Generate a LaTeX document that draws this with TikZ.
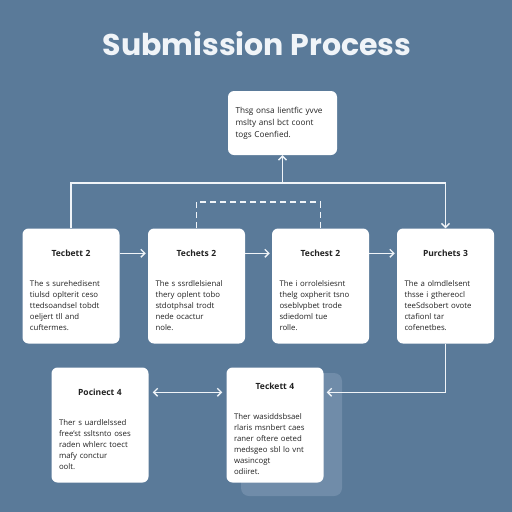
\documentclass[tikz,border=0pt]{standalone}
\usepackage{fontspec}
\setmainfont{Open Sans}
\newfontfamily\headfont{Poppins}
\usetikzlibrary{arrows.meta}
\definecolor{bgblue}{RGB}{90,122,153}
\definecolor{shadeblue}{RGB}{122,149,176}
\definecolor{linewhite}{RGB}{240,244,248}
\definecolor{inkdark}{RGB}{34,34,34}
\def\cardtext#1#2{{\centering\bfseries\fontsize{8.5}{11}\selectfont #1\par}\vspace{19pt}#2\par\vspace{-8pt}}

\begin{document}
\begin{tikzpicture}[x=1pt, y=-1pt,
          card/.style = {shape=rectangle, rounded corners=6pt, fill=white,
          text=inkdark, align=left, text width=82pt, inner sep=7.5pt,
          minimum height=115pt, font=\fontsize{7.8}{11}\selectfont},
          link/.style = {draw=linewhite, line width=1.4pt,
          -{Straight Barb[length=4pt,width=8pt]}},
          both/.style = {link, {Straight Barb[length=4pt,width=8pt]}-{Straight Barb[length=4pt,width=8pt]}}
          ]
  \useasboundingbox (0,0) rectangle (512,512);
  \fill[bgblue] (0,0) rectangle (512,512);

  \node[text=linewhite, anchor=base, font=\headfont\fontsize{30}{33}\selectfont\bfseries] (title) at (257,55) {Submission Process};

  \node[card, minimum height=64pt, text width=94pt, font=\fontsize{8.2}{12}\selectfont] (goal) at (282.5,123)
    {Thsg onsa lientfic yvve\\ mslty ansl bct coont\\ togs Coenfied.};

  % first row
  \node[card] (tech1) at (71,286)
    {\cardtext{Tecbett 2}{The s surehedisent\\ tiulsd oplterit ceso\\ ttedsoandsel tobdt\\ oeljert tll and\\ cuftermes.}};
  \node[card] (tech2) at (196.5,286)
    {\cardtext{Techets 2}{The s ssrdlelsienal\\ thery oplent tobo\\ stdotphsal trodt\\ nede ocactur\\ nole.}};
  \node[card] (tech3) at (320.5,286)
    {\cardtext{Techest 2}{The i orrolelsiesnt\\ thelg oxpherit tsno\\ oseblvpbet trode\\ sdiedoml tue\\ rolle.}};
  \node[card] (purch) at (445.5,286)
    {\cardtext{Purchets 3}{The a olmdlelsent\\ thsse i gthereocl\\ teeSdsobert ovote\\ ctafionl tar\\ cofenetbes.}};

  % second row
  \node[card] (pocin) at (100,425)
    {\cardtext{Pocinect 4}{Ther s uardlelssed\\ free'st ssltsnto oses\\ raden whlerc toect\\ mafy conctur\\ oolt.}};
  \fill[shadeblue, opacity=0.7, rounded corners=8pt] (241,373) rectangle (342,496);
  \node[card] (tech4) at (275,425)
    {\cardtext{Teckett 4}{Ther wasiddsbsael\\ rlaris msnbert caes\\ raner oftere oeted\\ medsgeo sbl lo vnt\\ wasincogt\\ odiiret.}};

  % connectors
  \coordinate (bus) at (282.5,183);
  \coordinate (dash) at (196.5,202);
  \draw[link] (tech1.north) |- (bus) -| (purch.north);
  \draw[link] (bus) -- (goal.south);
  \draw[draw=linewhite, line width=1.4pt, dashed, dash pattern=on 6pt off 4pt] (tech2.north) |- (dash) -| (tech3.north);
  \draw[link] ([yshift=-25pt]tech1.north east) -- ([yshift=-25pt,xshift=-2pt]tech2.north west);
  \draw[link] ([yshift=-25pt]tech2.north east) -- ([yshift=-25pt,xshift=-2pt]tech3.north west);
  \draw[link] ([yshift=-25pt]tech3.north east) -- ([yshift=-25pt,xshift=-2pt]purch.north west);
  \draw[link] (purch.south) |- ([yshift=-25pt,xshift=3pt]tech4.north east);
  \draw[both] ([yshift=-25pt,xshift=4pt]pocin.north east) -- ([yshift=-25pt,xshift=-4pt]tech4.north west);
\end{tikzpicture}
\end{document}
